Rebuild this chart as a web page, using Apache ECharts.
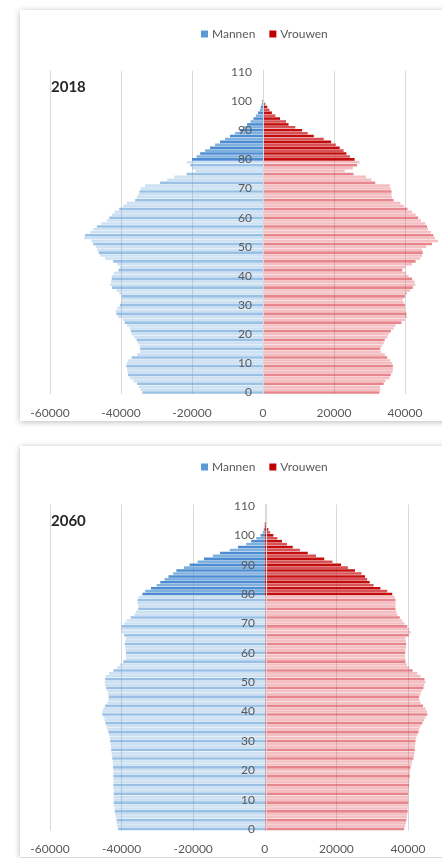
<!DOCTYPE html>
<html>
<head>
<meta charset="utf-8">
<title>Bevolkingspiramide 2018 en 2060</title>
<script src="https://cdn.jsdelivr.net/npm/echarts@6/dist/echarts.min.js"></script>
<style>
  html, body {
    margin: 0;
    padding: 0;
    width: 442px;
    height: 858px;
    overflow: hidden;
    background: #ffffff;
  }
  .page {
    position: relative;
    width: 442px;
    height: 858px;
    overflow: hidden;
  }
  .card {
    position: absolute;
    left: 20px;
    width: 480px;
    height: 411px;
    background: #ffffff;
    box-shadow: 0 1px 6px rgba(0, 0, 0, 0.28);
  }
  .chart {
    width: 100%;
    height: 100%;
  }
</style>
</head>
<body>
<div class="page">
  <div class="card" style="top: 10px;"><div id="chart2018" class="chart"></div></div>
  <div class="card" style="top: 446px;"><div id="chart2060" class="chart"></div></div>
</div>

<script>
// leeftijden 0 t/m 110
const ages = []
for (let a = 0; a <= 110; a++) ages.push(String(a))

const legendNames = ['Mannen', 'Vrouwen']
const xTicks = [-60000, -40000, -20000, 0, 20000, 40000, 60000]

const men2018 = [
  34000, 34500, 35000, 35500, 36500, 37500, 38000, 38100, 38300, 38500,
  38400, 38000, 37000, 35500, 34600, 34600, 34800, 35200, 35600, 36300,
  37000, 37200, 37500, 38300, 39000, 39400, 40800, 41300, 41500, 41000,
  40300, 40000, 39800, 39800, 40500, 41200, 42500, 43100, 42800, 42600,
  42600, 42000, 40700, 40300, 41000, 42200, 44500, 45900, 46300, 46700,
  47000, 47800, 48300, 50400, 50100, 48700, 47800, 46800, 45500, 44000,
  43300, 42600, 41800, 40500, 39400, 38400, 36000, 35600, 35100, 34800,
  34500, 33200, 29000, 27000, 25000, 21500, 19000, 20000, 20500, 21500,
  20000, 18700, 17700, 16300, 14900, 13500, 12100, 10700, 9300, 7900,
  6500, 5500, 4500, 3500, 2700, 2000, 1400, 900, 600, 350,
  200, 0, 0, 0, 0, 0, 0, 0, 0, 0, 0
]
const women2018 = [
  32800, 33000, 33000, 34000, 34500, 35600, 36000, 36500, 36600, 36600,
  36400, 35900, 35000, 34300, 33200, 33000, 33500, 34000, 34300, 35000,
  35400, 36000, 36800, 37300, 39000, 40000, 40600, 40400, 40100, 40000,
  40000, 39600, 39400, 40000, 40600, 41500, 42200, 42900, 42700, 42000,
  41000, 40300, 39200, 40200, 42000, 43000, 44300, 44800, 45000, 44800,
  46000, 47600, 49300, 48500, 48000, 47300, 46500, 46200, 45700, 44500,
  43700, 43000, 42000, 40700, 39700, 38700, 36800, 36300, 36200, 36200,
  36000, 35700, 31600, 30500, 29000, 25500, 23000, 25300, 26500, 27200,
  25800, 24500, 23500, 22700, 21600, 20500, 19200, 17100, 14300, 12600,
  11000, 9100, 7200, 6500, 4800, 3500, 2500, 1800, 1200, 650,
  300, 0, 0, 0, 0, 0, 0, 0, 0, 0, 0
]

const men2060 = [
  41000, 41200, 41400, 41400, 41600, 41800, 41900, 42000, 42100, 42200,
  42200, 42200, 42200, 42200, 42300, 42300, 42300, 42300, 42300, 42300,
  42300, 42400, 42400, 42500, 42600, 42700, 42800, 42900, 43000, 43100,
  43200, 43300, 43500, 43700, 44000, 44200, 44500, 44700, 45000, 45400,
  45400, 45100, 44600, 44000, 43700, 43600, 43800, 44000, 44300, 44600,
  44700, 44600, 44400, 43500, 42300, 41300, 40500, 39500, 38800, 38800,
  38800, 38900, 39000, 39100, 38900, 38800, 39300, 40000, 40100, 40000,
  39300, 38600, 37500, 36400, 36000, 35400, 35300, 35600, 35500, 35300,
  34200, 33400, 31800, 30200, 29200, 28000, 26900, 25600, 24700, 22600,
  21000, 18800, 17000, 14500, 12500, 9800, 7500, 5200, 3800, 2400,
  1200, 600, 300, 100, 0, 0, 0, 0, 0, 0, 0
]
const women2060 = [
  38900, 39200, 39400, 39500, 39700, 39800, 39900, 39900, 40000, 40100,
  40100, 40100, 40100, 40200, 40300, 40300, 40300, 40400, 40500, 40500,
  40600, 40700, 41000, 41200, 41500, 41700, 41800, 41900, 41900, 42000,
  42100, 42300, 42600, 42900, 43100, 43500, 44000, 44500, 44900, 45400,
  45300, 44900, 44200, 43500, 43200, 43100, 43500, 43800, 44300, 44500,
  44900, 44600, 43500, 42600, 41300, 40300, 39700, 39300, 39200, 39200,
  39200, 39300, 39500, 39500, 39400, 39300, 40200, 40700, 40300, 39800,
  39000, 38400, 37700, 37000, 36800, 36500, 36500, 36500, 36500, 36300,
  35600, 34200, 32300, 30400, 29300, 28600, 28000, 27000, 25200, 23200,
  21300, 18900, 16600, 14300, 12000, 9800, 7800, 6200, 4800, 3500,
  2400, 1500, 1000, 500, 200, 0, 0, 0, 0, 0, 0
]

// kleuren: 80+ vol, jonger licht met strepen
const blue = {
  dark: 'rgba(62, 130, 206, 0.92)',
  darkAlt: 'rgba(91, 155, 213, 0.78)',
  mid: 'rgba(91, 155, 213, 0.62)',
  light: 'rgba(91, 155, 213, 0.3)'
}
const red = {
  dark: 'rgba(192, 0, 0, 0.95)',
  darkAlt: 'rgba(205, 40, 45, 0.8)',
  mid: 'rgba(214, 60, 70, 0.62)',
  light: 'rgba(218, 60, 72, 0.33)'
}

const barColor = (pal) => (params) => {
  const i = params.dataIndex
  if (i >= 80) return i % 2 === 0 ? pal.dark : pal.darkAlt
  return i % 3 === 0 ? pal.mid : pal.light
}

const labelColor = '#595959'
const gridColor = '#d9d9d9'

/**
 * opties voor één piramide
 * de leeftijdsas staat op de nullijn: offset = halve plotbreedte
 */
const buildOption = (title, men, women, grid, plotWidth, legendTop, titleTop) => ({
  animation: false,
  textStyle: { fontFamily: 'Lato, "Open Sans", sans-serif' },
  title: {
    text: title,
    left: 26,
    top: titleTop,
    textStyle: { fontSize: 15, fontWeight: 'bold', color: '#262626', fontFamily: 'Lato, sans-serif' }
  },
  legend: {
    left: 176,
    top: legendTop,
    itemWidth: 7,
    itemHeight: 7,
    itemGap: 14,
    icon: 'rect',
    textStyle: { fontSize: 12, color: labelColor, padding: [0, 0, 0, -1] },
    data: [
      { name: legendNames[0], itemStyle: { color: '#5B9BD5' } },
      { name: legendNames[1], itemStyle: { color: '#C00000' } }
    ]
  },
  grid: grid,
  xAxis: {
    type: 'value',
    min: xTicks[0],
    max: xTicks[xTicks.length - 1],
    interval: 20000,
    axisLine: { show: false },
    axisTick: { show: false },
    splitLine: { lineStyle: { color: gridColor, width: 1 } },
    axisLabel: {
      color: labelColor,
      fontSize: 12,
      margin: 13,
      formatter: (v) => String(v)
    }
  },
  yAxis: {
    type: 'category',
    data: ages,
    z: 5,
    position: 'left',
    offset: -plotWidth / 2,
    axisLine: { onZero: false, lineStyle: { color: gridColor } },
    axisTick: { show: false },
    axisLabel: {
      interval: 9,
      color: labelColor,
      fontSize: 12,
      margin: 11
    }
  },
  series: [
    {
      name: legendNames[0],
      type: 'bar',
      data: men.map((v) => -v),
      barGap: '-100%',
      barCategoryGap: '12%',
      itemStyle: { color: barColor(blue) }
    },
    {
      name: legendNames[1],
      type: 'bar',
      data: women,
      barGap: '-100%',
      barCategoryGap: '12%',
      itemStyle: { color: barColor(red) }
    }
  ]
})

const chart1 = echarts.init(document.getElementById('chart2018'))
chart1.setOption(buildOption('2018', men2018, women2018,
  { left: 30, right: 24, top: 60.5, bottom: 27 }, 426, 13, 65))

const chart2 = echarts.init(document.getElementById('chart2060'))
chart2.setOption(buildOption('2060', men2060, women2060,
  { left: 30, right: 18, top: 58.5, bottom: 26.5 }, 432, 10, 63))

window.addEventListener('resize', () => {
  chart1.resize()
  chart2.resize()
})
</script>
</body>
</html>
